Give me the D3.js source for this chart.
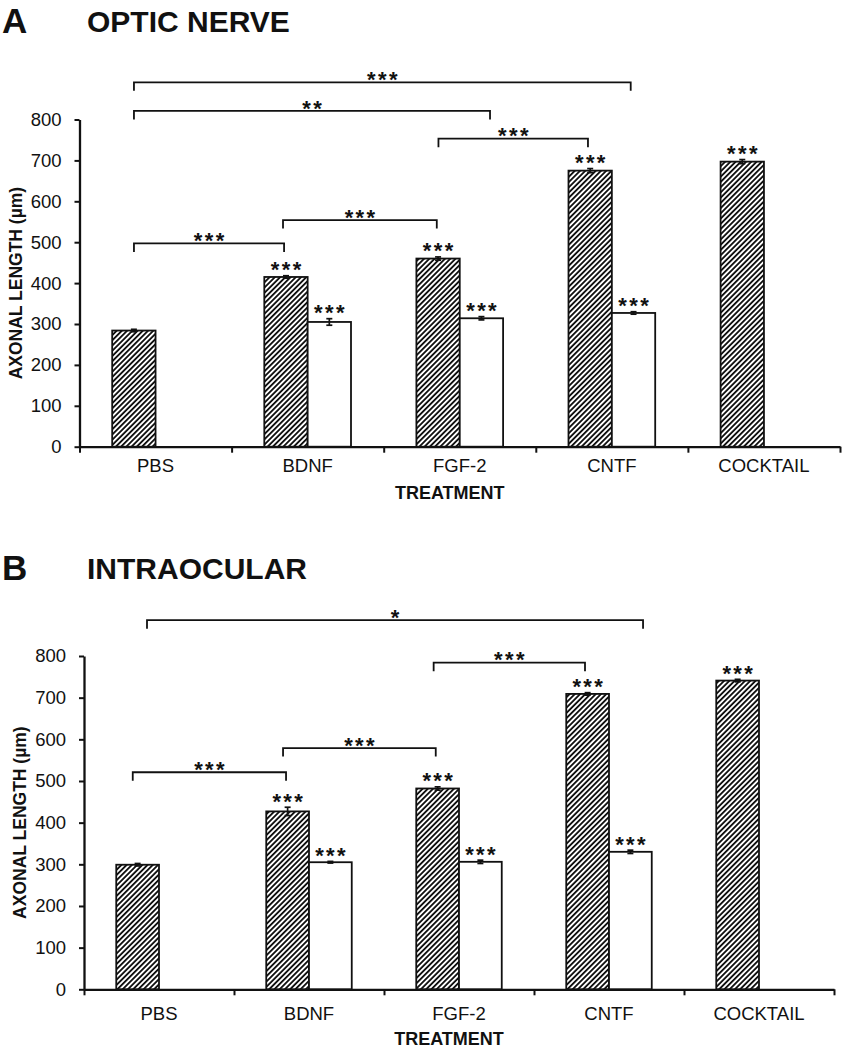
<!DOCTYPE html>
<html><head><meta charset="utf-8">
<script src="https://cdn.jsdelivr.net/npm/d3@7"></script>
<style>
body{margin:0;background:#fff}
text{font-family:"Liberation Sans",Arial,Helvetica,sans-serif;fill:#111}
</style>
</head><body><svg id="c" width="843" height="1050"></svg>
<script>
// ---------- data ----------
const categories = ["PBS", "BDNF", "FGF-2", "CNTF", "COCKTAIL"];
const seriesKeys = ["hatched", "open"];
const yTicks = [0, 100, 200, 300, 400, 500, 600, 700, 800];

// Panel A: optic nerve
const opticHatched    = [284, 415, 460, 675, 697];
const opticHatchedErr = [3, 3, 4, 5, 5];
const opticOpen       = [null, 305, 314, 327, null];
const opticOpenErr    = [null, 8, 4, 3, null];
const opticHatchedStars = [null, "***", "***", "***", "***"];
const opticOpenStars    = [null, "***", "***", "***", null];
// brackets: [fromCategory, fromBandFraction, toCategory, toBandFraction, yValue, label]
const opticBrackets = [
  [0, 0.358, 1, 0.345, 497, "***"],
  [1, 0.338, 2, 0.349, 554, "***"],
  [2, 0.360, 3, 0.343, 753, "***"],
  [0, 0.358, 2, 0.699, 821, "**"],
  [0, 0.358, 3, 0.624, 891, "***"]
];

// Panel B: intraocular
const intraHatched    = [299, 427, 482, 709, 741];
const intraHatchedErr = [3, 10, 4, 3, 3];
const intraOpen       = [null, 305, 306, 330, null];
const intraOpenErr    = [null, 2, 4, 4, null];
const intraHatchedStars = [null, "***", "***", "***", "***"];
const intraOpenStars    = [null, "***", "***", "***", null];
const intraBrackets = [
  [0, 0.325, 1, 0.347, 521, "***"],
  [1, 0.327, 2, 0.345, 579, "***"],
  [2, 0.331, 3, 0.340, 784, "***"],
  [0, 0.420, 3, 0.727, 886, "*"]
];

// ---------- drawing ----------
const svg = d3.select("#c");
const defs = svg.append("defs");
const P = 3.7;
const pat = defs.append("pattern").attr("id", "hatch")
  .attr("patternUnits", "userSpaceOnUse")
  .attr("width", P).attr("height", P)
  .attr("patternTransform", "rotate(45)");
pat.append("rect").attr("width", P).attr("height", P).attr("fill", "#fff");
pat.append("line").attr("x1", P/2).attr("x2", P/2).attr("y1", 0).attr("y2", P)
  .attr("stroke", "#111").attr("stroke-width", 1.85);

function panel(cfg) {
  const g = svg.append("g");
  const x0 = d3.scaleBand().domain(categories).range([cfg.left, cfg.right]).padding(0);
  const bw = x0.bandwidth();
  const x1 = d3.scaleBand().domain(seriesKeys).range([bw * 0.215, bw * 0.785]).padding(0);
  const y = d3.scaleLinear().domain([0, 800]).range([cfg.bottom, cfg.top]);

  // titles
  g.append("text").attr("x", 2).attr("y", cfg.titleY)
    .style("font-size", "35px").style("font-weight", "bold").text(cfg.letter);
  g.append("text").attr("x", 87).attr("y", cfg.titleY - 1)
    .style("font-size", "30px").style("font-weight", "bold").text(cfg.title);

  // bars
  const series = [
    {key: "hatched", vals: cfg.hatched, errs: cfg.hatchedErr, stars: cfg.hatchedStars, fill: "url(#hatch)"},
    {key: "open", vals: cfg.open, errs: cfg.openErr, stars: cfg.openStars, fill: "#fff"}
  ];
  series.forEach(s => {
    categories.forEach((c, i) => {
      const v = s.vals[i];
      if (v == null) return;
      const bx = x0(c) + x1(s.key);
      const w = x1.bandwidth();
      g.append("rect").attr("x", bx).attr("y", y(v))
        .attr("width", w).attr("height", y(0) - y(v))
        .attr("fill", s.fill).attr("stroke", "#111").attr("stroke-width", 1.8);
      const cx = bx + w / 2, e = s.errs[i];
      g.append("line").attr("x1", cx).attr("x2", cx).attr("y1", y(v - e)).attr("y2", y(v + e))
        .attr("stroke", "#111").attr("stroke-width", 1.7);
      [v - e, v + e].forEach(t => g.append("line").attr("x1", cx - 3).attr("x2", cx + 3)
        .attr("y1", y(t)).attr("y2", y(t)).attr("stroke", "#111").attr("stroke-width", 1.7));
      if (s.stars[i]) {
        g.append("text").attr("x", cx + 1.2).attr("y", y(v + e) + 1.5)
          .attr("text-anchor", "middle")
          .style("font-size", "22px").style("font-weight", "bold").style("letter-spacing", "2.4px")
          .text(s.stars[i]);
      }
    });
  });

  // brackets
  cfg.brackets.forEach(b => {
    const xa = x0(categories[b[0]]) + bw * b[1];
    const xb = x0(categories[b[2]]) + bw * b[3];
    const yy = y(b[4]);
    g.append("path").attr("d", `M${xa},${yy + 8.5}V${yy}H${xb}V${yy + 8.5}`)
      .attr("fill", "none").attr("stroke", "#111").attr("stroke-width", 1.8);
    g.append("text").attr("x", (xa + xb) / 2 + 1.2).attr("y", yy + 4.6)
      .attr("text-anchor", "middle")
      .style("font-size", "22px").style("font-weight", "bold").style("letter-spacing", "2.4px")
      .text(b[5]);
  });

  // y axis
  const ya = g.append("g").attr("transform", `translate(${cfg.left},0)`)
    .call(d3.axisLeft(y).tickValues(yTicks).tickSize(5).tickSizeOuter(0).tickPadding(13));
  ya.select(".domain").attr("stroke", "#111").attr("stroke-width", 2.3);
  ya.selectAll(".tick line").attr("stroke", "#111").attr("stroke-width", 2);
  ya.selectAll(".tick text").style("font-size", "18.5px").style("font-family", '"Liberation Sans",Arial,sans-serif').attr("fill", "#111");

  // x axis: boundary ticks
  const xb = d3.scaleLinear().domain([0, categories.length]).range([cfg.left, cfg.right]);
  const xa = g.append("g").attr("transform", `translate(0,${cfg.bottom})`)
    .call(d3.axisBottom(xb).tickValues(d3.range(categories.length + 1)).tickFormat("").tickSize(6).tickSizeOuter(0));
  xa.select(".domain").attr("stroke", "#111").attr("stroke-width", 2.3);
  xa.selectAll(".tick line").attr("stroke", "#111").attr("stroke-width", 2);
  // category labels
  const xl = g.append("g").attr("transform", `translate(0,${cfg.bottom})`)
    .call(d3.axisBottom(x0).tickSize(0).tickPadding(cfg.labelPad));
  xl.select(".domain").remove();
  xl.selectAll(".tick text").style("font-size", "18.5px").style("font-family", '"Liberation Sans",Arial,sans-serif').attr("fill", "#111");

  // axis titles
  g.append("text").attr("x", (cfg.left + cfg.right) / 2 - 10).attr("y", cfg.xTitleY)
    .attr("text-anchor", "middle").style("font-size", "18px").style("font-weight", "bold")
    .text("TREATMENT");
  g.append("text").attr("transform", `translate(${cfg.yTitleX},${(cfg.top + cfg.bottom) / 2}) rotate(-90)`)
    .attr("text-anchor", "middle").style("font-size", "17.5px").style("font-weight", "bold")
    .text("AXONAL LENGTH (µm)");
}

panel({
  letter: "A", title: "OPTIC NERVE", titleY: 33,
  left: 79.5, right: 840, top: 119.5, bottom: 446.7,
  hatched: opticHatched, hatchedErr: opticHatchedErr, hatchedStars: opticHatchedStars,
  open: opticOpen, openErr: opticOpenErr, openStars: opticOpenStars,
  brackets: opticBrackets, labelPad: 12, xTitleY: 499, yTitleX: 22
});
panel({
  letter: "B", title: "INTRAOCULAR", titleY: 580,
  left: 84, right: 834, top: 656, bottom: 989.3,
  hatched: intraHatched, hatchedErr: intraHatchedErr, hatchedStars: intraHatchedStars,
  open: intraOpen, openErr: intraOpenErr, openStars: intraOpenStars,
  brackets: intraBrackets, labelPad: 18, xTitleY: 1045, yTitleX: 26
});
</script>
</body></html>
